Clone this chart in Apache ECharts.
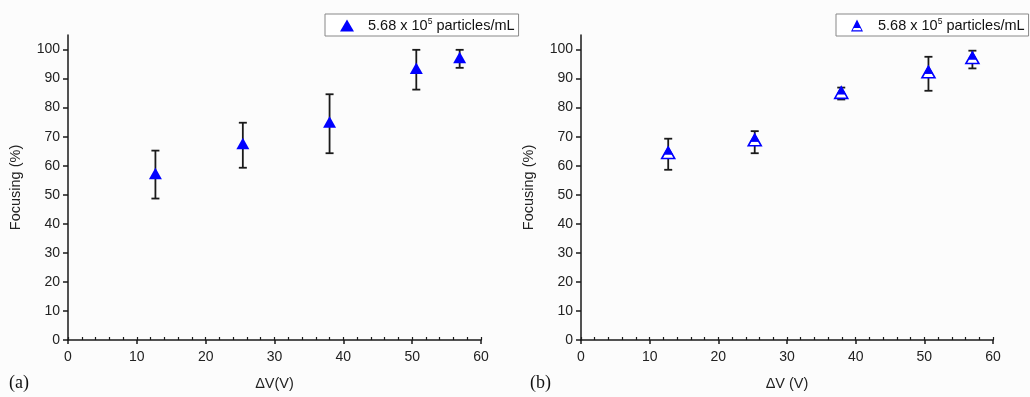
<!DOCTYPE html>
<html>
<head>
<meta charset="utf-8">
<script src="https://cdn.jsdelivr.net/npm/echarts@6/dist/echarts.min.js"></script>
<style>
  html, body { margin: 0; padding: 0; background: #fcfcfc; }
  #chart { width: 1030px; height: 397px; }
</style>
</head>
<body>
<div id="chart"></div>
<script>
// panel (a)
const voltageA = [12.7, 25.4, 38.0, 50.6, 56.9];
const focusA = [57.1, 67.4, 74.8, 93.3, 97.0];
const lowA = [48.7, 59.3, 64.3, 86.2, 93.7];
const highA = [65.2, 74.8, 84.6, 99.9, 99.9];

// panel (b)
const voltageB = [12.7, 25.3, 37.9, 50.6, 57.0];
const focusB = [64.2, 68.6, 84.9, 92.0, 96.9];
const lowB = [58.6, 64.3, 82.8, 85.8, 93.5];
const highB = [69.3, 71.9, 86.9, 97.5, 99.6];

const yTicks = [0, 10, 20, 30, 40, 50, 60, 70, 80, 90, 100];
const seriesName = '5.68 x 10^5 particles/mL';

const blue = '#0000ff';
const ink = '#1a1a1a';
const font = 'Liberation Sans, Arial, sans-serif';

// half-filled triangle (top solid, bottom outlined) for legend (b)
const halfTriangle = 'path://M50,0 L80,60 L20,60 Z M20,60 L80,60 L100,100 L0,100 Z M24,70 L13,90 L87,90 L76,70 Z';

function zip(x, y, lo, hi) {
    return x.map((v, i) => [v, y[i], lo[i], hi[i]]);
}

function makeRender(halfFilled) {
    return function (params, api) {
        const x = api.value(0);
        const p = api.coord([x, api.value(1)]);
        const pl = api.coord([x, api.value(2)]);
        const ph = api.coord([x, api.value(3)]);
        const cap = 4;
        const hw = 6.5, up = 6.5, dn = 5;
        const lineStyle = { stroke: ink, lineWidth: 1.8 };
        const children = [
            { type: 'line', shape: { x1: p[0], y1: ph[1], x2: p[0], y2: pl[1] }, style: lineStyle },
            { type: 'line', shape: { x1: p[0] - cap, y1: ph[1], x2: p[0] + cap, y2: ph[1] }, style: lineStyle },
            { type: 'line', shape: { x1: p[0] - cap, y1: pl[1], x2: p[0] + cap, y2: pl[1] }, style: lineStyle }
        ];
        const tri = [[p[0], p[1] - up], [p[0] - hw, p[1] + dn], [p[0] + hw, p[1] + dn]];
        if (!halfFilled) {
            children.push({ type: 'polygon', shape: { points: tri }, style: { fill: blue } });
        } else {
            children.push({ type: 'polygon', shape: { points: tri }, style: { fill: '#fff', stroke: blue, lineWidth: 1.6 } });
            const f = 0.62;
            const yb = p[1] - up + (up + dn) * f;
            children.push({
                type: 'polygon',
                shape: { points: [tri[0], [p[0] - hw * f, yb], [p[0] + hw * f, yb]] },
                style: { fill: blue, stroke: blue, lineWidth: 1 }
            });
        }
        return { type: 'group', children: children };
    };
}

function legendFor(left, icon, name) {
    return {
        left: left, top: 14,
        data: [{ name: name, icon: icon }],
        itemWidth: 14, itemHeight: 12,
        padding: [3, 4, 3, 15],
        borderColor: '#888', borderWidth: 1,
        backgroundColor: '#fff',
        selectedMode: false,
        formatter: () => '5.68 x 10{sup|5} particles/mL',
        textStyle: {
            fontFamily: font, fontSize: 14.5, color: '#111', padding: [0, 0, 0, 9],
            rich: { sup: { fontFamily: font, fontSize: 8.5, color: '#111', padding: [0, 0, 8, 0] } }
        }
    };
}

function xAxes(grid) {
    return [
        {
            gridIndex: grid, type: 'value', min: 0, max: 60, interval: 10,
            name: grid === 0 ? 'ΔV(V)' : 'ΔV (V)', nameLocation: 'middle', nameGap: 36,
            nameTextStyle: { fontFamily: font, fontSize: 14.5, color: '#222' },
            axisLine: { lineStyle: { color: ink, width: 1.5 } },
            axisTick: { length: 4, lineStyle: { color: ink, width: 1.5 } },
            axisLabel: { margin: 10, fontFamily: font, fontSize: 14, color: '#222' },
            splitLine: { show: false }
        },
        {
            gridIndex: grid, type: 'value', min: 0, max: 60, interval: 2, position: 'bottom',
            axisLine: { show: false },
            axisTick: { inside: true, length: 3, lineStyle: { color: ink, width: 1.2 } },
            axisLabel: { show: false },
            splitLine: { show: false }
        }
    ];
}

function yAxis(grid) {
    return {
        gridIndex: grid, type: 'value', min: 0, max: 105, interval: 10,
        name: 'Focusing (%)', nameLocation: 'middle', nameGap: 45,
        nameTextStyle: { fontFamily: font, fontSize: 14.5, color: '#222' },
        axisLine: { show: true, lineStyle: { color: ink, width: 1.5 } },
        axisTick: { show: true, length: 5, customValues: yTicks, lineStyle: { color: ink, width: 1.5 } },
        axisLabel: { margin: 8, customValues: yTicks, fontFamily: font, fontSize: 14, color: '#222' },
        splitLine: { show: false }
    };
}

const chart = echarts.init(document.getElementById('chart'));
chart.setOption({
    backgroundColor: '#fcfcfc',
    animation: false,
    grid: [
        { left: 68, top: 35, width: 413, height: 305 },
        { left: 581, top: 35, width: 412, height: 305 }
    ],
    legend: [
        legendFor(325, 'triangle', seriesName + ' a'),
        legendFor(836, halfTriangle, seriesName + ' b')
    ],
    xAxis: [...xAxes(0), ...xAxes(1)],
    yAxis: [yAxis(0), yAxis(1)],
    series: [
        {
            name: seriesName + ' a', type: 'custom', xAxisIndex: 0, yAxisIndex: 0,
            itemStyle: { color: blue },
            renderItem: makeRender(false),
            data: zip(voltageA, focusA, lowA, highA)
        },
        {
            name: seriesName + ' b', type: 'custom', xAxisIndex: 2, yAxisIndex: 1,
            itemStyle: { color: blue },
            renderItem: makeRender(true),
            data: zip(voltageB, focusB, lowB, highB)
        }
    ],
    graphic: [
        { type: 'text', left: 9, top: 374, style: { text: '(a)', font: '18px "Liberation Serif", serif', fill: '#111' } },
        { type: 'text', left: 530, top: 374, style: { text: '(b)', font: '18px "Liberation Serif", serif', fill: '#111' } }
    ]
});
</script>
</body>
</html>
